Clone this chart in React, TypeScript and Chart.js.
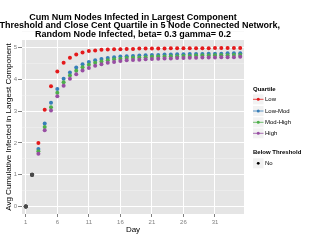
import React, { useEffect, useRef } from "react";
import { Chart, registerables } from "chart.js";

Chart.register(...registerables);

const days = [1, 2, 3, 4, 5, 6, 7, 8, 9, 10, 11, 12, 13, 14, 15, 16, 17, 18, 19, 20, 21, 22, 23, 24, 25, 26, 27, 28, 29, 30, 31, 32, 33, 34, 35];

const lowValues = [0, 1, 2.0, 3.04, 3.78, 4.25, 4.52, 4.68, 4.78, 4.85, 4.89, 4.91, 4.93, 4.94, 4.95, 4.95, 4.96, 4.96, 4.97, 4.97, 4.97, 4.97, 4.97, 4.98, 4.98, 4.98, 4.98, 4.98, 4.98, 4.98, 4.99, 4.99, 4.99, 4.99, 4.99];
const lowModValues = [0, 1, 1.81, 2.61, 3.26, 3.7, 4.02, 4.22, 4.37, 4.48, 4.55, 4.6, 4.64, 4.67, 4.7, 4.72, 4.73, 4.74, 4.75, 4.76, 4.77, 4.77, 4.78, 4.78, 4.79, 4.79, 4.8, 4.8, 4.8, 4.81, 4.81, 4.81, 4.82, 4.82, 4.82];
const modHighValues = [0, 1, 1.74, 2.5, 3.12, 3.58, 3.91, 4.12, 4.27, 4.38, 4.46, 4.52, 4.56, 4.6, 4.63, 4.65, 4.67, 4.68, 4.69, 4.7, 4.71, 4.72, 4.72, 4.73, 4.73, 4.74, 4.74, 4.75, 4.75, 4.75, 4.76, 4.76, 4.76, 4.77, 4.77];
const highValues = [0, 1, 1.66, 2.4, 3.02, 3.47, 3.8, 4.02, 4.16, 4.28, 4.36, 4.43, 4.48, 4.52, 4.55, 4.58, 4.6, 4.61, 4.62, 4.63, 4.64, 4.65, 4.66, 4.66, 4.67, 4.67, 4.68, 4.68, 4.69, 4.69, 4.69, 4.7, 4.7, 4.7, 4.71];

const quartileLabels = ["Low", "Low-Mod", "Mod-High", "High"];
const quartileColors = ["#E41A1C", "#377EB8", "#4DAF4A", "#984EA3"];
const thresholdLabels = ["No"];

const xTickValues = [1, 6, 11, 16, 21, 26, 31];
const yTickValues = [0, 1, 2, 3, 4, 5];

const titleLine1 = "Cum Num Nodes Infected in Largest Component";
const titleLine2 = "Threshold and Close Cent Quartile in 5 Node Connected Network,";
const titleLine3 = "Random Node Infected, beta= 0.3 gamma= 0.2";
const xTitle = "Day";
const yTitle = "Avg Cumulative Infected in Largest Component";
const legendTitle1 = "Quartile";
const legendTitle2 = "Below Threshold";

const FONT = "'Liberation Sans', Arial, Helvetica, sans-serif";
const EARLY_COLOR = "#4a4a4a";

const seriesValues = [lowValues, lowModValues, modHighValues, highValues];

const decorPlugin = {
  id: "decor",
  beforeDraw(chart: any) {
    const { ctx, chartArea } = chart;
    ctx.save();
    ctx.fillStyle = "#E5E5E5";
    ctx.fillRect(chartArea.left, chartArea.top, chartArea.right - chartArea.left, chartArea.bottom - chartArea.top);
    ctx.restore();
  },
  afterDraw(chart: any) {
    const { ctx, chartArea } = chart;
    ctx.save();
    // Title
    const cx = (chartArea.left + chartArea.right) / 2;
    ctx.fillStyle = "#000";
    ctx.font = `bold 9px ${FONT}`;
    ctx.textBaseline = "alphabetic";
    ctx.textAlign = "center";
    ctx.fillText(titleLine1, cx, 19.7);
    ctx.textAlign = "right";
    ctx.fillText(titleLine2, 280, 28.3);
    ctx.textAlign = "center";
    ctx.fillText(titleLine3, cx, 37);

    // Legend
    const lx = 253;
    ctx.textAlign = "left";
    ctx.textBaseline = "middle";
    ctx.font = `bold 6px ${FONT}`;
    ctx.fillText(legendTitle1, lx, 89);
    const rowY = [99.3, 111, 122.3, 133.3];
    quartileLabels.forEach((lab, i) => {
      const y = rowY[i];
      ctx.fillStyle = "#F2F2F2";
      ctx.fillRect(lx, y - 5, 10.5, 10);
      ctx.strokeStyle = quartileColors[i];
      ctx.lineWidth = 0.8;
      ctx.beginPath();
      ctx.moveTo(lx, y);
      ctx.lineTo(lx + 10.5, y);
      ctx.stroke();
      ctx.fillStyle = quartileColors[i];
      ctx.beginPath();
      ctx.arc(lx + 5.25, y, 1.5, 0, Math.PI * 2);
      ctx.fill();
      ctx.fillStyle = "#000";
      ctx.font = `6px ${FONT}`;
      ctx.fillText(lab, 265, y + 0.3);
    });
    ctx.font = `bold 6px ${FONT}`;
    ctx.fillText(legendTitle2, lx, 152.3);
    thresholdLabels.forEach((lab, i) => {
      const y = 163.3 + i * 11;
      ctx.fillStyle = "#F2F2F2";
      ctx.fillRect(lx, y - 5, 10.5, 10);
      ctx.fillStyle = "#000";
      ctx.beginPath();
      ctx.arc(lx + 5.25, y, 1.4, 0, Math.PI * 2);
      ctx.fill();
      ctx.font = `6px ${FONT}`;
      ctx.fillText(lab, 265, y + 0.3);
    });
    ctx.restore();
  },
};

export default function App() {
  const canvasRef = useRef<HTMLCanvasElement | null>(null);

  useEffect(() => {
    const canvas = canvasRef.current;
    if (!canvas) return;
    const chart = new Chart(canvas, {
      type: "scatter",
      data: {
        datasets: quartileLabels.map((lab, i) => ({
          label: lab,
          data: days.map((d, j) => ({ x: d, y: seriesValues[i][j] })),
          showLine: false,
          pointRadius: 2,
          pointBorderWidth: 0,
          pointBackgroundColor: (c: any) => (c.dataIndex < 2 ? EARLY_COLOR : quartileColors[i]),
          pointBorderColor: "rgba(0,0,0,0)",
          order: quartileLabels.length - i,
        })),
      },
      options: {
        animation: false,
        responsive: false,
        events: [],
        layout: { padding: { left: 0, right: 76, top: 40, bottom: 0 } },
        plugins: {
          legend: { display: false },
          tooltip: { enabled: false },
          title: { display: false },
        },
        scales: {
          x: {
            type: "linear",
            min: 0.4,
            max: 35.6,
            afterBuildTicks: (scale: any) => {
              scale.ticks = xTickValues.map((v) => ({ value: v }));
            },
            afterFit: (scale: any) => {
              scale.height = 26;
            },
            border: { display: false },
            grid: { color: "#FFFFFF", lineWidth: 1, tickColor: "#7F7F7F", tickLength: 3, drawTicks: true },
            ticks: {
              autoSkip: false,
              maxRotation: 0,
              padding: 2,
              color: "#7F7F7F",
              font: { family: FONT, size: 6 },
              callback: (v: any) => String(v),
            },
            title: {
              display: true,
              text: xTitle,
              color: "#000",
              font: { family: FONT, size: 8 },
              padding: { top: 0, bottom: 5 },
            },
          },
          y: {
            type: "linear",
            min: -0.24,
            max: 5.24,
            afterBuildTicks: (scale: any) => {
              const t: any[] = [];
              yTickValues.forEach((v) => {
                t.push({ value: v });
                t.push({ value: v + 0.5 });
              });
              scale.ticks = t;
            },
            afterFit: (scale: any) => {
              scale.width = 22;
            },
            border: { display: false },
            grid: {
              color: (c: any) => (c.tick && c.tick.value % 1 === 0 ? "#FFFFFF" : "#F2F2F2"),
              lineWidth: (c: any) => (c.tick && c.tick.value % 1 === 0 ? 1 : 0.5),
              tickColor: (c: any) => (c.tick && c.tick.value % 1 === 0 ? "#7F7F7F" : "rgba(0,0,0,0)"),
              tickLength: 4,
              drawTicks: true,
            },
            ticks: {
              autoSkip: false,
              padding: 1,
              color: "#7F7F7F",
              font: { family: FONT, size: 6 },
              callback: (v: any) => (Number(v) % 1 === 0 ? String(v) : ""),
            },
            title: {
              display: true,
              text: yTitle,
              color: "#000",
              font: { family: FONT, size: 8 },
              padding: { top: 4, bottom: 0 },
            },
          },
        },
      },
      plugins: [decorPlugin],
    } as any);
    return () => chart.destroy();
  }, []);

  return (
    <div style={{ position: "absolute", left: 0, top: 0, width: 320, height: 240, background: "#fff" }}>
      <canvas ref={canvasRef} width={320} height={240} style={{ display: "block", width: 320, height: 240 }} />
    </div>
  );
}
